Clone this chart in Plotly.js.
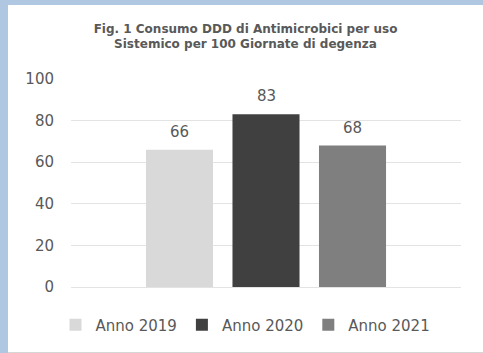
<!DOCTYPE html>
<html>
<head>
<meta charset="utf-8">
<script src="https://cdn.plot.ly/plotly-3.0.1.min.js"></script>
<style>
  html, body { margin: 0; padding: 0; }
  body { width: 483px; height: 353px; background: #afc7e0; position: relative; overflow: hidden; }
  #frame { position: absolute; left: 8px; top: 5px; width: 475px; height: 348px; background: #d6d6d6; }
  #chart { position: absolute; left: 0; top: 0; width: 475px; height: 347px; }
</style>
</head>
<body>
<div id="frame"><div id="chart"></div></div>
<script>
// Consumo DDD di antimicrobici per uso sistemico, per 100 giornate di degenza
const years = ['Anno 2019', 'Anno 2020', 'Anno 2021'];
const values = [66, 83, 68];
const barColors = ['#d9d9d9', '#404040', '#7f7f7f'];
const yTicks = [0, 20, 40, 60, 80, 100];

const textGray = '#595959';
const baseFont = { family: 'DejaVu Sans, sans-serif', size: 14, color: textGray };

const traces = years.map((name, i) => ({
  type: 'bar',
  name: name,
  x: [name],
  y: [values[i]],
  marker: { color: barColors[i], line: { width: 0 } },
  hoverinfo: 'skip'
}));

// value labels sitting above each bar
const labels = years.map((name, i) => ({
  x: name,
  y: values[i],
  xref: 'x',
  yref: 'y',
  text: String(values[i]),
  showarrow: false,
  yanchor: 'bottom',
  yshift: 7,
  font: { family: 'DejaVu Sans, sans-serif', size: 15, color: textGray }
}));

const layout = {
  width: 475,
  height: 347,
  paper_bgcolor: '#ffffff',
  plot_bgcolor: '#ffffff',
  margin: { l: 63, r: 22, t: 74, b: 65 },
  font: baseFont,
  title: {
    text: 'Fig. 1 Consumo DDD di Antimicrobici per uso<br>Sistemico per 100 Giornate di degenza',
    font: { family: 'DejaVu Sans, sans-serif', size: 12, color: textGray, weight: 'bold' },
    xref: 'container',
    x: 0.5,
    xanchor: 'center',
    yref: 'container',
    y: 0.92,
    yanchor: 'top'
  },
  barmode: 'overlay',
  bargap: 0.225,
  xaxis: {
    type: 'category',
    categoryorder: 'array',
    categoryarray: years,
    range: [-1.254, 3.254],
    showticklabels: false,
    showgrid: false,
    zeroline: false,
    showline: false,
    ticks: ''
  },
  yaxis: {
    range: [0, 100],
    tickvals: yTicks,
    ticktext: yTicks.map(String),
    showgrid: true,
    gridcolor: '#e3e3e3',
    gridwidth: 1,
    zeroline: true,
    zerolinecolor: '#e3e3e3',
    zerolinewidth: 1,
    showline: false,
    ticks: '',
    ticklabelstandoff: 16,
    tickfont: { family: 'DejaVu Sans, sans-serif', size: 15, color: textGray }
  },
  showlegend: true,
  legend: {
    orientation: 'h',
    xref: 'container',
    x: 0.5,
    xanchor: 'center',
    yref: 'container',
    y: 0.078,
    yanchor: 'middle',
    font: { family: 'DejaVu Sans, sans-serif', size: 15, color: textGray },
    itemwidth: 30,
    itemclick: false,
    itemdoubleclick: false
  },
  annotations: labels
};

Plotly.newPlot('chart', traces, layout, { staticPlot: true, displayModeBar: false });
</script>
</body>
</html>
